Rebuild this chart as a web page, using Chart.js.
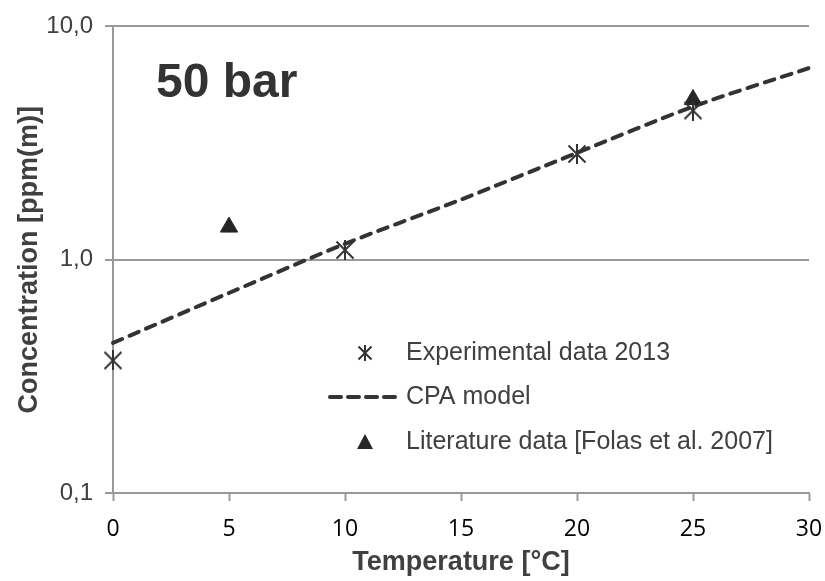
<!DOCTYPE html>
<html lang="en">
<head>
  <meta charset="UTF-8">
  <title>50 bar</title>
  <script src="https://cdn.jsdelivr.net/npm/chart.js"></script>
  <style>
    html, body { margin: 0; padding: 0; background: #fff; }
    #wrap { width: 825px; height: 581px; }
  </style>
</head>
<body>
  <div id="wrap"><canvas id="chart" width="825" height="581"></canvas></div>

  <script>
    // values
    const tempExp = [0, 10, 20, 25];
    const concExp = [0.37, 1.10, 2.84, 4.36];

    const tempLit = [5, 25];
    const concLit = [1.38, 4.86];

    const tempModel = [0, 5, 10, 15, 20, 25, 30];
    const concModel = [0.44, 0.72, 1.17, 1.81, 2.87, 4.53, 6.63];

    const yTicks = [0.1, 1, 10];

    const labelExp = 'Experimental data 2013';
    const labelModel = 'CPA model';
    const labelLit = 'Literature data [Folas et al. 2007]';

    const gridGray = '#999999';
    const markColor = '#333333';

    // asterisk marker like the spreadsheet one (X plus vertical bar)
    function makeStar(size, color) {
      const c = document.createElement('canvas');
      c.width = size; c.height = size;
      const g = c.getContext('2d');
      const m = 1.5, s = size - 1.5;
      g.strokeStyle = color;
      g.lineWidth = 2;
      g.beginPath();
      g.moveTo(m, m); g.lineTo(s, s);
      g.moveTo(s, m); g.lineTo(m, s);
      g.moveTo(size / 2, 0); g.lineTo(size / 2, size);
      g.stroke();
      return c;
    }
    const starBig = makeStar(20, markColor);
    const starSmall = makeStar(16, markColor);

    const toPoints = (xs, ys) => xs.map((x, i) => ({ x: x, y: ys[i] }));

    // text inside the plot: big label and legend
    const overlay = {
      id: 'overlay',
      afterDraw(chart) {
        const ctx = chart.ctx;
        ctx.save();
        ctx.fillStyle = '#333333';
        ctx.font = 'bold 48px "Liberation Sans", Arial, sans-serif';
        ctx.textBaseline = 'alphabetic';
        ctx.textAlign = 'left';
        ctx.fillText('50 bar', 156, 97);

        const rows = [353, 397, 442];
        const mx = 365, tx = 406;
        ctx.font = '25px "Liberation Sans", Arial, sans-serif';
        ctx.fillStyle = '#404040';
        ctx.textBaseline = 'middle';
        ctx.fillText(labelExp, tx, rows[0]);
        ctx.fillText(labelModel, tx, rows[1]);
        ctx.fillText(labelLit, tx, rows[2]);

        ctx.drawImage(starSmall, mx - 8, rows[0] - 8);

        ctx.strokeStyle = markColor;
        ctx.lineWidth = 4;
        ctx.lineCap = 'round';
        ctx.setLineDash([11, 7]);
        ctx.beginPath();
        ctx.moveTo(330, rows[1]);
        ctx.lineTo(399, rows[1]);
        ctx.stroke();
        ctx.setLineDash([]);

        ctx.fillStyle = '#262626';
        ctx.beginPath();
        ctx.moveTo(mx, rows[2] - 8);
        ctx.lineTo(mx + 8, rows[2] + 7);
        ctx.lineTo(mx - 8, rows[2] + 7);
        ctx.closePath();
        ctx.fill();
        ctx.restore();
      }
    };

    new Chart(document.getElementById('chart').getContext('2d'), {
      type: 'scatter',
      data: {
        datasets: [
          {
            label: labelExp,
            data: toPoints(tempExp, concExp),
            pointStyle: starBig,
            pointRadius: 10,
            clip: false
          },
          {
            label: labelLit,
            data: toPoints(tempLit, concLit),
            pointStyle: 'triangle',
            pointRadius: 10,
            backgroundColor: '#262626',
            borderColor: '#262626',
            borderWidth: 1,
            clip: false
          },
          {
            label: labelModel,
            data: toPoints(tempModel, concModel),
            showLine: true,
            pointRadius: 0,
            borderColor: markColor,
            borderWidth: 4,
            borderDash: [10, 8],
            borderCapStyle: 'round',
            tension: 0.3,
            clip: false
          }
        ]
      },
      options: {
        responsive: false,
        animation: false,
        layout: { padding: { left: 0, right: 16, top: 21, bottom: 0 } },
        plugins: {
          legend: { display: false },
          tooltip: { enabled: false }
        },
        scales: {
          x: {
            type: 'linear',
            min: 0,
            max: 30,
            afterFit: s => { s.height = 88; s.paddingRight = 0; s.paddingLeft = 0; },
            ticks: {
              stepSize: 5,
              padding: 15,
              color: '#000000',
              font: { family: '"Open Sans", sans-serif', size: 23 }
            },
            grid: {
              drawOnChartArea: false,
              drawTicks: true,
              tickLength: 8,
              tickColor: gridGray,
              tickWidth: 2
            },
            border: { color: gridGray, width: 2 },
            title: {
              display: true,
              text: 'Temperature [°C]',
              color: '#404040',
              font: { family: '"Liberation Sans", Arial, sans-serif', size: 27, weight: 'bold' },
              padding: { top: 0, bottom: 2 }
            }
          },
          y: {
            type: 'logarithmic',
            min: 0.1,
            max: 10,
            afterFit: s => { s.width = 113; },
            afterBuildTicks: s => { s.ticks = yTicks.map(v => ({ value: v })); },
            ticks: {
              padding: 12,
              color: '#404040',
              font: { family: '"Liberation Sans", Arial, sans-serif', size: 24 },
              callback: v => v.toFixed(1).replace('.', ',')
            },
            grid: {
              color: gridGray,
              lineWidth: 2,
              drawTicks: true,
              tickLength: 8,
              tickColor: gridGray
            },
            border: { color: gridGray, width: 2 },
            title: {
              display: true,
              text: 'Concentration [ppm(m)]',
              color: '#404040',
              font: { family: '"Liberation Sans", Arial, sans-serif', size: 27, weight: 'bold' },
              padding: { top: 13, bottom: 0 }
            }
          }
        }
      },
      plugins: [overlay]
    });
  </script>
</body>
</html>
